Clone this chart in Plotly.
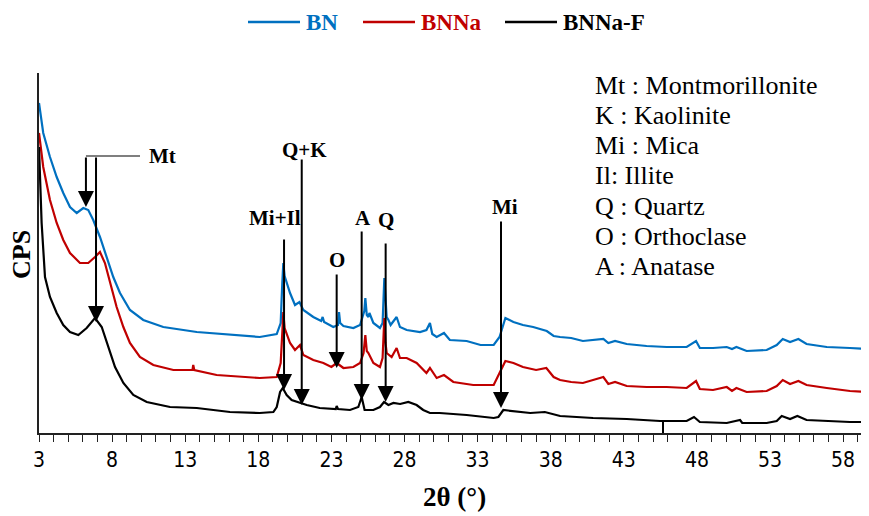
import plotly.graph_objects as go

# ---------------- data ----------------
bn_x = [3.0, 3.29, 3.75, 4.21, 4.66, 5.12, 5.58, 6.03, 6.37, 6.71, 7.17, 7.63, 8.08, 8.54, 9.22,
        10.13, 11.5, 13.79, 16.06, 18.1, 19.26, 19.53, 19.64, 19.71, 19.8, 19.94, 20.17, 20.51,
        20.81, 21.08, 21.76, 22.3, 22.4, 22.5, 23.13, 23.45, 23.52, 23.6, 23.82, 24.5, 24.96,
        25.25, 25.32, 25.42, 25.53, 25.6, 25.87, 26.32, 26.5, 26.62, 26.7, 26.78, 26.9, 27.05,
        27.46, 27.69, 28.15, 29.06, 29.5, 29.74, 29.9, 30.2, 30.7, 31.1, 32.25, 33.2, 34.1, 34.5,
        34.9, 35.45, 36.1, 36.8, 37.73, 38.2, 38.64, 39.4, 40.2, 41.6, 41.94, 42.4, 43.2, 44.56,
        45.93, 47.3, 47.94, 48.2, 49.1, 50.04, 50.4, 50.7, 51.4, 52.77, 53.46, 53.87, 54.37,
        54.94, 55.5, 56.88, 58.47, 59.77]
bn_y = [330, 300, 276, 256, 240, 226, 220, 225, 223, 213, 196, 176, 156, 140, 123,
        113, 106, 101, 98, 96, 99, 110, 150, 170, 157, 150, 140, 128,
        131, 123, 116, 112, 116, 111, 106, 108, 121, 110, 107, 105, 108,
        122, 135, 118, 116, 120, 110, 105, 110, 155, 130, 116, 113, 108,
        116, 106, 103, 101, 103, 110, 99, 96, 100, 93, 92, 88, 88, 96,
        115, 111, 108, 106, 102, 97, 96, 95, 92, 94, 90, 92, 89, 87,
        86, 86, 92, 85, 85, 86, 84, 86, 82, 83, 88, 94, 91,
        94, 89, 86, 85, 84]

bnna_x = [3.0, 3.29, 3.75, 4.21, 4.66, 5.12, 5.8, 6.37, 6.83, 7.17, 7.51, 7.86, 8.31, 8.77, 9.22,
          9.9, 10.82, 12.19, 13.5, 13.55, 13.62, 15.15, 18.1, 19.26, 19.53, 19.64, 19.71, 19.8,
          19.94, 20.17, 20.51, 20.85, 21.08, 21.76, 22.45, 23.0, 23.36, 23.82, 24.5, 24.96, 25.2,
          25.32, 25.42, 25.53, 25.87, 26.32, 26.5, 26.62, 26.7, 26.78, 27.12, 27.46, 27.69, 28.15,
          28.83, 29.5, 29.74, 30.2, 30.7, 31.34, 32.7, 34.1, 34.5, 34.9, 35.45, 36.1, 37.0, 37.7,
          38.2, 38.64, 39.4, 40.2, 41.6, 41.94, 42.4, 43.2, 44.56, 45.93, 47.3, 47.94, 48.2, 49.1,
          50.04, 50.4, 50.7, 51.4, 52.77, 53.46, 53.87, 54.37, 54.94, 55.5, 56.88, 58.47, 59.77]
bnna_y = [300, 266, 233, 210, 193, 180, 170, 170, 176, 181, 170, 150, 126, 106, 90,
          76, 68, 63, 63, 68, 63, 58, 55, 56, 70, 100, 121, 105,
          100, 90, 83, 88, 78, 73, 70, 66, 70, 65, 66, 70, 80,
          98, 82, 80, 70, 66, 75, 115, 90, 80, 76, 85, 75, 75,
          70, 60, 65, 55, 58, 51, 48, 48, 60, 72, 70, 66, 63, 65,
          56, 53, 51, 50, 56, 49, 51, 47, 46, 46, 45, 52, 44, 43,
          46, 42, 45, 41, 42, 47, 53, 49, 52, 48, 45, 42, 41]

bnnaf_x = [3.0, 3.18, 3.41, 3.75, 4.21, 4.66, 5.12, 5.69, 6.26, 6.83, 7.29, 7.74, 8.2, 8.77, 9.45,
           10.37, 11.96, 13.79, 16.06, 18.1, 19.03, 19.26, 19.49, 19.67, 19.94, 20.28, 20.74,
           21.31, 22.2, 23.3, 23.36, 23.45, 24.27, 24.84, 25.07, 25.27, 25.87, 26.32, 26.6, 26.9,
           27.24, 27.7, 28.26, 28.83, 29.28, 29.74, 30.4, 32.25, 34.1, 34.42, 34.76, 35.45, 36.6,
           37.6, 38.64, 40.9, 43.2, 45.48, 47.3, 47.8, 48.2, 50.04, 50.95, 51.1, 52.77, 53.46,
           53.8, 54.37, 54.87, 55.5, 56.88, 58.47, 59.77]
bnnaf_y = [286, 210, 156, 136, 120, 108, 101, 98, 105, 115, 106, 86, 66, 50, 38,
           31, 26, 25, 21, 20, 21, 26, 41, 45, 38, 33, 31,
           28, 25, 24, 27, 24, 23, 26, 36, 23, 23, 26, 31, 28,
           30, 29, 31, 28, 23, 20, 20, 18, 15, 16, 23, 22, 20,
           21, 17, 15, 14, 12, 12, 16, 11, 10, 13, 10, 10, 12,
           17, 14, 17, 13, 12, 11, 11]

series_names = ["BN", "BNNa", "BNNa-F"]
series_colors = ["#0070C0", "#C00000", "#000000"]

x_ticks = [3, 8, 13, 18, 23, 28, 33, 38, 43, 48, 53, 58]

# peak markers: arrow x, arrow tip (y), arrow tail (y)
arrow_x = [6.21, 6.9, 19.76, 20.97, 23.36, 25.07, 26.71, 34.6]
arrow_tip = [226, 111, 43, 28, 65, 33, 31, 25]
arrow_top = [277, 277, 195, 275, 160, 203, 191, 213]

label_text = ["Mi+Il", "Q+K", "O", "A", "Q", "Mi"]
label_x = [19.14, 21.19, 23.36, 25.16, 26.73, 34.87]
label_y = [215, 283, 173, 215, 213, 226]

mt_label = "Mt"
mt_line = [6.21, 9.91, 277]

key_lines = ["Mt : Montmorillonite", "K : Kaolinite", "Mi : Mica", "Il: Illite",
             "Q : Quartz", "O : Orthoclase", "A : Anatase"]

artifact_x = 45.68
artifact_top = 11.5

# ---------------- figure ----------------
SERIF = "Liberation Serif, Times New Roman, serif"
NARROW = "Liberation Sans Narrow, Arial Narrow, DejaVu Sans Condensed, sans-serif"

# page body adds an 8px offset; the plot area is 830 x 360 px
PW, PH = 830, 360
OX, OY = 39, 433  # reference pixel position of the plot's lower-left corner

fig = go.Figure()
for xs, ys, nm, col in zip([bn_x, bnna_x, bnnaf_x], [bn_y, bnna_y, bnnaf_y], series_names, series_colors):
    fig.add_trace(go.Scatter(x=xs, y=ys, mode="lines", name=nm,
                             line=dict(color=col, width=2.2), showlegend=False))

annotations = []
for ax_, tip, top in zip(arrow_x, arrow_tip, arrow_top):
    annotations.append(dict(x=ax_, y=tip, ax=ax_, ay=top, xref="x", yref="y",
                            axref="x", ayref="y", text="", showarrow=True,
                            arrowhead=2, arrowsize=1.6, arrowwidth=2,
                            arrowcolor="black", standoff=0, startstandoff=0))
for t, lx, ly in zip(label_text, label_x, label_y):
    annotations.append(dict(x=lx, y=ly, xref="x", yref="y", text=t, showarrow=False,
                            xanchor="center", yanchor="middle",
                            font=dict(family=SERIF, size=21, color="black", weight="bold")))
annotations.append(dict(x=mt_line[1] + 0.45, y=mt_line[2], xref="x", yref="y", text=mt_label,
                        showarrow=False, xanchor="left", yanchor="middle",
                        font=dict(family=SERIF, size=21, color="black", weight="bold")))

# key text box (upper right)
for i, line in enumerate(key_lines):
    py = 85 + i * 30.3
    annotations.append(dict(x=(593 - OX) / PW, y=(OY - py) / PH, xref="paper", yref="paper",
                            text=line, showarrow=False, xanchor="left", yanchor="middle",
                            font=dict(family=SERIF, size=26, color="black")))

# manual legend
leg_line_px = [(248, 300), (363, 415), (505, 557)]
for (x0, x1), nm, col in zip(leg_line_px, series_names, series_colors):
    annotations.append(dict(x=(x1 + 4 - OX) / PW, y=(OY - 22) / PH, xref="paper", yref="paper",
                            text=nm, showarrow=False, xanchor="left", yanchor="middle",
                            font=dict(family=SERIF, size=23, color=col, weight="bold")))

# axis titles
annotations.append(dict(x=(21 - OX) / PW, y=(OY - 255) / PH, xref="paper", yref="paper",
                        text="CPS", textangle=-90, showarrow=False,
                        xanchor="center", yanchor="middle",
                        font=dict(family=SERIF, size=26, color="black", weight="bold")))
annotations.append(dict(x=(454 - OX) / PW, y=(OY - 497) / PH, xref="paper", yref="paper",
                        text="2θ (°)", showarrow=False, xanchor="center", yanchor="middle",
                        font=dict(family=SERIF, size=27, color="black", weight="bold")))

shapes = [dict(type="line", xref="x", yref="y", x0=mt_line[0], x1=mt_line[1],
               y0=mt_line[2], y1=mt_line[2], line=dict(color="#555555", width=1.5)),
          dict(type="line", xref="x", yref="y", x0=artifact_x, x1=artifact_x,
               y0=0, y1=artifact_top, line=dict(color="black", width=2))]
for (x0, x1), col in zip(leg_line_px, series_colors):
    shapes.append(dict(type="line", xref="paper", yref="paper",
                       x0=(x0 - OX) / PW, x1=(x1 - OX) / PW,
                       y0=(OY - 22) / PH, y1=(OY - 22) / PH,
                       line=dict(color=col, width=2.5)))

fig.update_layout(
    width=861, height=508,
    margin=dict(l=OX - 8, r=0, t=73 - 8, b=83, pad=0, autoexpand=False),
    plot_bgcolor="white", paper_bgcolor="white",
    showlegend=False,
    annotations=annotations, shapes=shapes,
    xaxis=dict(range=[3, 59.77], tickmode="array", tickvals=x_ticks,
               ticktext=[str(v) for v in x_ticks],
               ticks="outside", ticklen=7, tickwidth=1.3, tickcolor="#222222",
               minor=dict(dtick=1, tick0=3, ticks="outside", ticklen=7, tickwidth=1.3,
                          tickcolor="#222222", showgrid=False),
               showline=True, linecolor="#222222", linewidth=1.5,
               showgrid=False, zeroline=False, automargin=False,
               tickfont=dict(family=NARROW, size=21, color="black")),
    yaxis=dict(range=[0, 360], showticklabels=False, ticks="", showline=True,
               linecolor="#222222", linewidth=1.5, showgrid=False, zeroline=False,
               automargin=False),
)

fig.write_html("out.html")
